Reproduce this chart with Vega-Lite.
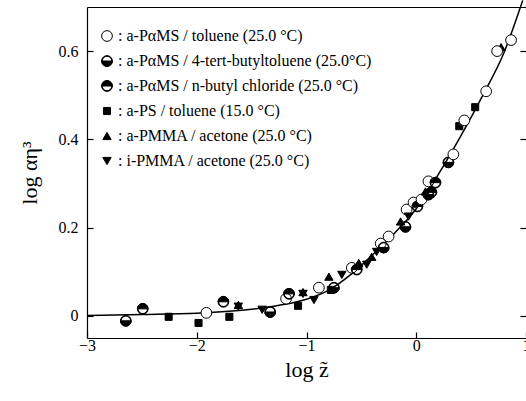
{
  "$schema": "https://vega.github.io/schema/vega-lite/v6.json",
  "width": 439,
  "height": 331,
  "autosize": {"type": "none"},
  "padding": {"left": 87, "top": 7, "right": 0, "bottom": 63},
  "background": "white",
  "config": {
    "view": {"stroke": null},
    "font": "Liberation Serif",
    "axis": {
      "labelFont": "Liberation Serif", "titleFont": "Liberation Serif",
      "domainColor": "black", "tickColor": "black", "labelColor": "black", "titleColor": "black",
      "grid": false, "domainWidth": 1.2, "tickWidth": 1.2, "labelFlush": false,
      "labelFontSize": 16, "titleFontSize": 22, "titleFontWeight": "normal"
    },
    "legend": {
      "labelFont": "Liberation Serif", "labelFontSize": 16, "labelColor": "black",
      "symbolStrokeColor": "black", "symbolStrokeWidth": 1,
      "rowPadding": 9, "labelOffset": 3, "padding": 0,
      "orient": "none", "legendX": 12, "legendY": 21, "labelLimit": 400
    }
  },
  "datasets": {
    "curve": [
      {"x": -3.0, "y": 0.001}, {"x": -2.5, "y": 0.003}, {"x": -2.0, "y": 0.006},
      {"x": -1.5, "y": 0.015}, {"x": -1.25, "y": 0.024}, {"x": -1.0, "y": 0.038},
      {"x": -0.8, "y": 0.058}, {"x": -0.6, "y": 0.093}, {"x": -0.4, "y": 0.138},
      {"x": -0.2, "y": 0.187}, {"x": 0.0, "y": 0.243}, {"x": 0.2, "y": 0.32},
      {"x": 0.4, "y": 0.405}, {"x": 0.6, "y": 0.497}, {"x": 0.8, "y": 0.597},
      {"x": 0.97, "y": 0.715}
    ],
    "pts": [
      {"x": -2.646, "y": -0.011, "s": "a-PαMS / 4-tert-butyltoluene (25.0°C)"},
      {"x": -2.492, "y": 0.016, "s": "a-PαMS / n-butyl chloride (25.0 °C)"},
      {"x": -2.256, "y": -0.002, "s": "a-PS / toluene (15.0 °C)"},
      {"x": -1.984, "y": -0.016, "s": "a-PS / toluene (15.0 °C)"},
      {"x": -1.912, "y": 0.007, "s": "a-PαMS / toluene (25.0 °C)"},
      {"x": -1.757, "y": 0.032, "s": "a-PαMS / n-butyl chloride (25.0 °C)"},
      {"x": -1.703, "y": -0.002, "s": "a-PS / toluene (15.0 °C)"},
      {"x": -1.621, "y": 0.025, "s": "a-PMMA / acetone (25.0 °C)"},
      {"x": -1.621, "y": 0.021, "s": "i-PMMA / acetone (25.0 °C)"},
      {"x": -1.404, "y": 0.014, "s": "i-PMMA / acetone (25.0 °C)"},
      {"x": -1.331, "y": 0.009, "s": "a-PαMS / 4-tert-butyltoluene (25.0°C)"},
      {"x": -1.186, "y": 0.039, "s": "a-PαMS / toluene (25.0 °C)"},
      {"x": -1.159, "y": 0.05, "s": "a-PαMS / n-butyl chloride (25.0 °C)"},
      {"x": -1.077, "y": 0.023, "s": "a-PS / toluene (15.0 °C)"},
      {"x": -1.032, "y": 0.054, "s": "a-PMMA / acetone (25.0 °C)"},
      {"x": -1.032, "y": 0.05, "s": "i-PMMA / acetone (25.0 °C)"},
      {"x": -0.932, "y": 0.036, "s": "i-PMMA / acetone (25.0 °C)"},
      {"x": -0.887, "y": 0.064, "s": "a-PαMS / toluene (25.0 °C)"},
      {"x": -0.796, "y": 0.089, "s": "a-PMMA / acetone (25.0 °C)"},
      {"x": -0.778, "y": 0.059, "s": "a-PS / toluene (15.0 °C)"},
      {"x": -0.75, "y": 0.064, "s": "a-PαMS / 4-tert-butyltoluene (25.0°C)"},
      {"x": -0.678, "y": 0.093, "s": "i-PMMA / acetone (25.0 °C)"},
      {"x": -0.587, "y": 0.109, "s": "a-PαMS / toluene (25.0 °C)"},
      {"x": -0.542, "y": 0.105, "s": "a-PαMS / n-butyl chloride (25.0 °C)"},
      {"x": -0.524, "y": 0.12, "s": "a-PMMA / acetone (25.0 °C)"},
      {"x": -0.451, "y": 0.116, "s": "i-PMMA / acetone (25.0 °C)"},
      {"x": -0.406, "y": 0.134, "s": "a-PMMA / acetone (25.0 °C)"},
      {"x": -0.361, "y": 0.145, "s": "i-PMMA / acetone (25.0 °C)"},
      {"x": -0.324, "y": 0.164, "s": "a-PαMS / toluene (25.0 °C)"},
      {"x": -0.297, "y": 0.155, "s": "a-PαMS / 4-tert-butyltoluene (25.0°C)"},
      {"x": -0.252, "y": 0.18, "s": "a-PαMS / toluene (25.0 °C)"},
      {"x": -0.143, "y": 0.214, "s": "a-PMMA / acetone (25.0 °C)"},
      {"x": -0.098, "y": 0.202, "s": "a-PαMS / 4-tert-butyltoluene (25.0°C)"},
      {"x": -0.088, "y": 0.241, "s": "a-PαMS / toluene (25.0 °C)"},
      {"x": -0.07, "y": 0.225, "s": "i-PMMA / acetone (25.0 °C)"},
      {"x": -0.025, "y": 0.257, "s": "a-PαMS / toluene (25.0 °C)"},
      {"x": 0.011, "y": 0.248, "s": "a-PαMS / n-butyl chloride (25.0 °C)"},
      {"x": 0.048, "y": 0.264, "s": "a-PαMS / toluene (25.0 °C)"},
      {"x": 0.084, "y": 0.282, "s": "a-PMMA / acetone (25.0 °C)"},
      {"x": 0.111, "y": 0.275, "s": "a-PαMS / 4-tert-butyltoluene (25.0°C)"},
      {"x": 0.138, "y": 0.28, "s": "a-PαMS / n-butyl chloride (25.0 °C)"},
      {"x": 0.111, "y": 0.305, "s": "a-PαMS / toluene (25.0 °C)"},
      {"x": 0.175, "y": 0.302, "s": "a-PαMS / n-butyl chloride (25.0 °C)"},
      {"x": 0.293, "y": 0.348, "s": "a-PαMS / 4-tert-butyltoluene (25.0°C)"},
      {"x": 0.338, "y": 0.366, "s": "a-PαMS / toluene (25.0 °C)"},
      {"x": 0.392, "y": 0.43, "s": "a-PS / toluene (15.0 °C)"},
      {"x": 0.438, "y": 0.443, "s": "a-PαMS / toluene (25.0 °C)"},
      {"x": 0.537, "y": 0.473, "s": "a-PS / toluene (15.0 °C)"},
      {"x": 0.637, "y": 0.509, "s": "a-PαMS / toluene (25.0 °C)"},
      {"x": 0.773, "y": 0.609, "s": "a-PMMA / acetone (25.0 °C)"},
      {"x": 0.737, "y": 0.6, "s": "a-PαMS / toluene (25.0 °C)"},
      {"x": 0.864, "y": 0.625, "s": "a-PαMS / toluene (25.0 °C)"}
    ]
  },
  "resolve": {"axis": {"x": "independent", "y": "independent"}},
  "layer": [
    {
      "data": {"name": "curve"},
      "mark": {"type": "line", "color": "black", "strokeWidth": 1.5, "interpolate": "monotone", "clip": false},
      "encoding": {
        "x": {
          "field": "x", "type": "quantitative",
          "scale": {"domain": [-3, 1], "nice": false, "zero": false},
          "axis": {"orient": "bottom", "values": [-3, -2, -1, 0, 1], "tickSize": -6, "labelPadding": 5, "title": "log z̃", "titlePadding": 6}
        },
        "y": {
          "field": "y", "type": "quantitative",
          "scale": {"domain": [-0.05, 0.7], "nice": false, "zero": false},
          "axis": {"orient": "left", "values": [0, 0.2, 0.4, 0.6], "tickSize": -6, "labelPadding": 15, "labelExpr": "datum.value == 0 ? '0' : format(datum.value, '.1f')", "title": "log αη³", "titlePadding": 17}
        }
      }
    },
    {
      "data": {"name": "pts"},
      "mark": {"type": "point", "filled": true, "strokeWidth": 1, "opacity": 1},
      "encoding": {
        "x": {
          "field": "x", "type": "quantitative",
          "axis": {"orient": "top", "ticks": false, "labels": false, "title": null, "domain": true}
        },
        "y": {
          "field": "y", "type": "quantitative",
          "axis": {"orient": "right", "ticks": true, "tickSize": -6, "labels": false, "title": null, "domain": false, "values": [0, 0.2, 0.4, 0.6]}
        },
        "shape": {
          "field": "s", "type": "nominal",
          "scale": {
            "domain": ["a-PαMS / toluene (25.0 °C)", "a-PαMS / 4-tert-butyltoluene (25.0°C)", "a-PαMS / n-butyl chloride (25.0 °C)", "a-PS / toluene (15.0 °C)", "a-PMMA / acetone (25.0 °C)", "i-PMMA / acetone (25.0 °C)"],
            "range": [
              "circle",
              "M-1,0A1,1 0 1,1 1,0A1,1 0 1,1 -1,0Z M-0.88,0A0.88,0.88 0 1,0 0.88,0A0.88,0.88 0 1,0 -0.88,0Z M1,0A1,1 0 0,1 -1,0Z",
              "M-1,0A1,1 0 1,1 1,0A1,1 0 1,1 -1,0Z M-0.88,0A0.88,0.88 0 1,0 0.88,0A0.88,0.88 0 1,0 -0.88,0Z M-1,0A1,1 0 0,1 1,0Z",
              "square", "triangle-up", "triangle-down"
            ]
          },
          "legend": {"title": null, "labelExpr": "': ' + datum.label"}
        },
        "fill": {
          "field": "s", "type": "nominal",
          "scale": {
            "domain": ["a-PαMS / toluene (25.0 °C)", "a-PαMS / 4-tert-butyltoluene (25.0°C)", "a-PαMS / n-butyl chloride (25.0 °C)", "a-PS / toluene (15.0 °C)", "a-PMMA / acetone (25.0 °C)", "i-PMMA / acetone (25.0 °C)"],
            "range": ["white", "black", "black", "black", "black", "black"]
          },
          "legend": {"title": null, "labelExpr": "': ' + datum.label"}
        },
        "stroke": {
          "field": "s", "type": "nominal",
          "scale": {
            "domain": ["a-PαMS / toluene (25.0 °C)", "a-PαMS / 4-tert-butyltoluene (25.0°C)", "a-PαMS / n-butyl chloride (25.0 °C)", "a-PS / toluene (15.0 °C)", "a-PMMA / acetone (25.0 °C)", "i-PMMA / acetone (25.0 °C)"],
            "range": ["black", "black", "black", "black", "black", "black"]
          },
          "legend": {"title": null, "labelExpr": "': ' + datum.label"}
        },
        "size": {
          "field": "s", "type": "nominal",
          "scale": {
            "type": "ordinal",
            "domain": ["a-PαMS / toluene (25.0 °C)", "a-PαMS / 4-tert-butyltoluene (25.0°C)", "a-PαMS / n-butyl chloride (25.0 °C)", "a-PS / toluene (15.0 °C)", "a-PMMA / acetone (25.0 °C)", "i-PMMA / acetone (25.0 °C)"],
            "range": [115, 115, 115, 50, 70, 70]
          },
          "legend": {"title": null, "labelExpr": "': ' + datum.label"}
        }
      }
    }
  ]
}
